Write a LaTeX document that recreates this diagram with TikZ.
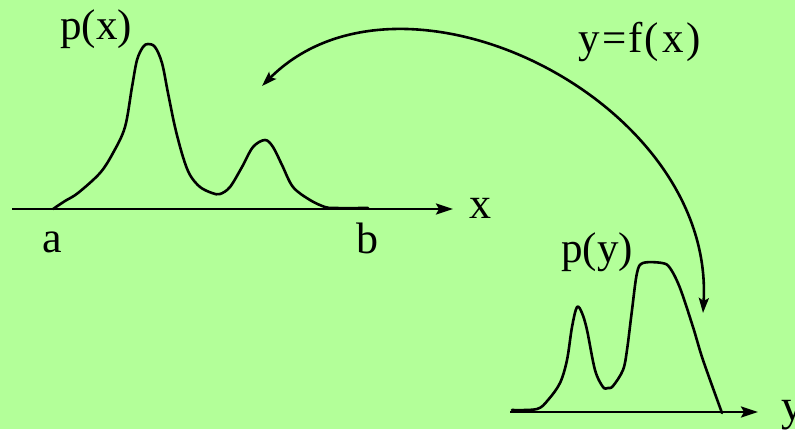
\documentclass[tikz,border=0pt]{standalone}
\usepackage{fontspec}
\setmainfont{Liberation Serif}
\usetikzlibrary{arrows.meta}
\definecolor{bgg}{RGB}{179,255,153}
\begin{document}
\begin{tikzpicture}[x=1pt,y=-1pt,
  curve/.style={line width=2.6pt,line join=round,line cap=round},
  axisline/.style={line width=2.6pt,-{Stealth[length=17pt,width=11pt,inset=3pt]}},
  maplink/.style={line width=2.6pt,{Stealth[length=15pt,width=10pt,inset=3pt]}-{Stealth[length=15pt,width=10pt,inset=3pt]}},
  biglbl/.style={font=\fontsize{44}{44}\selectfont,inner sep=0pt,anchor=base},
  smalllbl/.style={font=\fontsize{43}{43}\selectfont,inner sep=0pt,anchor=base}]
\fill[bgg] (0,0) rectangle (795,429);
\useasboundingbox (0,0) rectangle (795,429);
% axes
\coordinate (x0) at (12,209);
\coordinate (x1) at (453,209);
\coordinate (y0) at (510,412);
\coordinate (y1) at (758,412);
\draw[axisline] (x0) -- (x1);
\draw[axisline] (y0) -- (y1);
% p(x)
\draw[curve] plot[smooth,tension=0.55] coordinates {
 (53,209) (65,201) (78,193) (100,173) (113,153) (125,127) (132,87) (137,60) (143,47) (148,44) (155,47) (162,63) (168,93) (175,127) (183,157) (190,175) (200,187) (212,193) (220,194) (230,187) (242,167) (253,147) (265,140) (273,147) (282,165) (293,187) (310,200) (325,207) (335,208) (368,208)};
% p(y)
\draw[curve] plot[smooth,tension=0.55] coordinates {
 (512,410) (537,409) (548,400) (560,383) (567,360) (572,327) (577,307) (582,313) (587,330) (595,370) (603,387) (608,388) (613,386) (623,370) (627,350) (632,310) (637,273) (643,263) (662,263) (670,268) (680,288) (693,327) (703,360) (722,413)};
% mapping arrow
\coordinate (fa) at (262,86);
\coordinate (fb) at (703,313);
\draw[maplink] (fa) .. controls (402,-54) and (715,100) .. (fb);
% labels
\node[smalllbl] (px) at (96,39) {p(x)};
\node[smalllbl] (py) at (597,262) {p(y)};
\node[smalllbl] (fx) at (640,52) {y\kern2pt=\kern2pt f\kern2pt(\kern3pt x\kern3pt)};
\node[biglbl] (la) at (52,252) {a};
\node[biglbl] (lb) at (367,253) {b};
\node[biglbl] (lx) at (480,218) {x};
\node[biglbl,anchor=base west] (ly) at (781,420) {y};
\end{tikzpicture}
\end{document}
